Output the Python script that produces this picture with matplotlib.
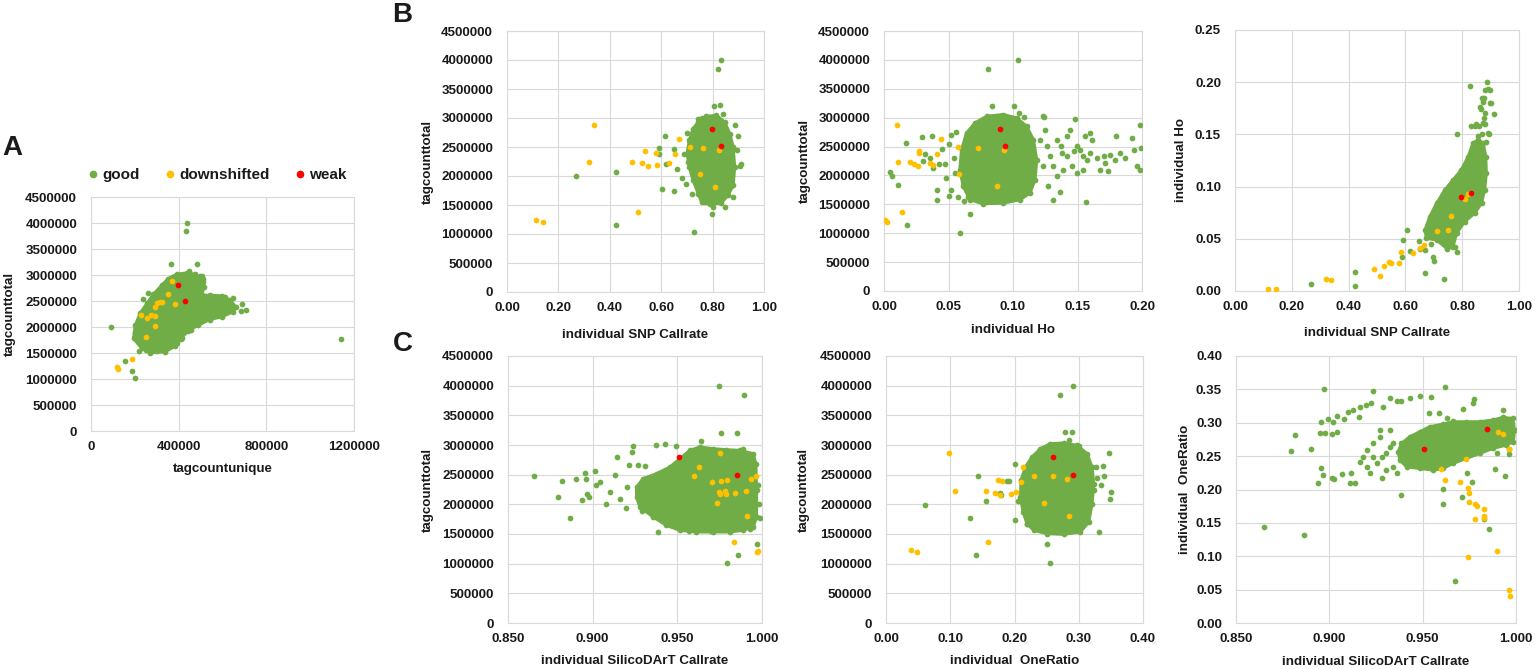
import numpy as np
import matplotlib.pyplot as plt
from matplotlib.lines import Line2D
from matplotlib.ticker import FormatStrFormatter, MultipleLocator

GOOD, DOWN, WEAK = "#70AD47", "#FFC000", "#FF0000"
GRID, INK = "#D9D9D9", "#1a1a1a"
W, H = 1535, 669
DOT = 17

# ---- A: tagcountunique (thousands) vs tagcounttotal (millions) ----
a_core_x = [232, 270, 338, 384, 414, 444, 490, 543, 596, 649, 661, 634, 596, 543, 505, 516, 510,
            475, 437, 391, 353, 323, 285, 255, 225, 202, 194]
a_core_y = [1.587, 1.504, 1.523, 1.632, 1.798, 1.927, 2.036, 2.144, 2.196, 2.292, 2.388, 2.516, 2.599,
            2.612, 2.612, 2.772, 2.932, 3.015, 3.040, 3.015, 2.932, 2.804, 2.631, 2.452, 2.272, 2.036, 1.779]
a_good_x = [1140, 91, 153, 187, 199, 432, 440, 367, 484, 705, 686, 259, 237, 507, 513, 446, 498,
            391, 199, 217, 560, 610, 650, 690, 250, 300, 410, 455]
a_good_y = [1.770, 1.991, 1.344, 1.146, 1.011, 3.847, 4.001, 3.207, 3.220, 2.336, 2.304, 2.656, 2.535,
            2.976, 2.868, 3.072, 2.976, 1.696, 1.888, 1.536, 2.560, 2.575, 2.560, 2.450, 1.560, 1.530,
            1.760, 1.950]
a_down_x = [369, 350, 326, 300, 316, 290, 382, 229, 256, 275, 291, 290, 249, 187, 118, 121]
a_down_y = [2.880, 2.631, 2.484, 2.452, 2.477, 2.388, 2.439, 2.228, 2.176, 2.228, 2.208, 2.016, 1.811,
            1.376, 1.223, 1.184]
a_weak_x = [396, 429]
a_weak_y = [2.810, 2.503]

# ---- B1: individual SNP Callrate vs tagcounttotal ----
b1_core_x = [0.757, 0.789, 0.834, 0.860, 0.880, 0.886, 0.880, 0.867, 0.847, 0.815, 0.776, 0.744,
             0.724, 0.709, 0.701, 0.709, 0.724, 0.744]
b1_core_y = [1.552, 1.511, 1.534, 1.667, 1.839, 2.155, 2.500, 2.730, 2.931, 3.046, 3.029, 2.931,
             2.816, 2.615, 2.385, 2.155, 1.925, 1.695]
b1_good_x = [0.268, 0.423, 0.423, 0.603, 0.648, 0.592, 0.590, 0.614, 0.617, 0.651, 0.662, 0.680,
             0.696, 0.721, 0.797, 0.727, 0.832, 0.820, 0.805, 0.829, 0.889, 0.912, 0.899, 0.893,
             0.880, 0.847, 0.802, 0.770, 0.744, 0.700, 0.690, 0.705, 0.760, 0.840, 0.905, 0.870]
b1_good_y = [1.994, 2.069, 1.149, 1.782, 1.736, 2.483, 2.380, 2.684, 2.213, 2.465, 2.126, 1.965,
             1.862, 1.684, 1.345, 1.030, 4.006, 3.850, 3.213, 3.218, 2.885, 2.213, 2.690, 2.450,
             1.640, 1.470, 1.470, 1.560, 2.990, 2.750, 2.380, 2.240, 3.000, 3.070, 2.180, 1.830]
b1_down_x = [0.113, 0.142, 0.320, 0.338, 0.488, 0.524, 0.547, 0.538, 0.578, 0.583, 0.629, 0.652,
             0.668, 0.713, 0.761, 0.752, 0.824, 0.811, 0.508]
b1_down_y = [1.236, 1.201, 2.241, 2.879, 2.241, 2.218, 2.172, 2.425, 2.396, 2.190, 2.224, 2.385,
             2.638, 2.500, 2.483, 2.029, 2.442, 1.810, 1.379]
b1_weak_x = [0.798, 0.832]
b1_weak_y = [2.816, 2.511]

# ---- B2: individual Ho vs tagcounttotal ----
b2_core_x = [0.0666, 0.0769, 0.0925, 0.1054, 0.1132, 0.1171, 0.1184, 0.1158, 0.1106, 0.1028,
             0.0925, 0.0795, 0.0705, 0.0640, 0.0601, 0.0588, 0.0614]
b2_core_y = [1.579, 1.510, 1.521, 1.579, 1.695, 1.926, 2.273, 2.620, 2.852, 2.996, 3.054, 3.025,
             2.909, 2.736, 2.447, 2.100, 1.810]
b2_good_x = [0.0047, 0.0065, 0.0106, 0.0171, 0.0176, 0.0298, 0.0321, 0.0370, 0.0381, 0.0407,
             0.0412, 0.0593, 0.0666, 0.045, 0.047, 0.048, 0.050, 0.052, 0.054, 0.052, 0.056,
             0.050, 0.055, 0.057, 0.062, 0.065, 0.030, 0.036, 0.043,
             0.0839, 0.1010, 0.0808, 0.1039, 0.105, 0.1085, 0.124, 0.148,
             0.1235, 0.1248, 0.1210, 0.1261, 0.1287, 0.1235, 0.1313, 0.1339, 0.1274, 0.1313,
             0.1339, 0.1370, 0.1417, 0.1443, 0.1378, 0.1417, 0.1469, 0.1494, 0.1520, 0.1456,
             0.1391, 0.1494, 0.1546, 0.1572, 0.1546, 0.1598, 0.1559, 0.1598, 0.1611, 0.1650,
             0.1702, 0.1753, 0.1715, 0.1676, 0.1740, 0.1792, 0.1831, 0.1870, 0.1800, 0.1922,
             0.1935, 0.1961, 0.1981, 0.1992, 0.1987, 0.1567, 0.1365]
b2_good_y = [2.065, 1.984, 1.833, 2.562, 1.139, 2.661, 2.377, 2.678, 2.128, 1.753,
             1.567, 1.012, 1.330, 2.450, 2.200, 1.950, 1.650, 1.750, 2.300, 2.700, 2.760,
             2.550, 2.050, 1.620, 1.550, 1.620, 2.250, 2.300, 2.200,
             3.199, 3.210, 3.846, 4.002, 3.080, 3.008, 3.013, 2.980,
             3.025, 2.794, 2.620, 2.504, 2.331, 2.157, 2.157, 1.984, 1.810, 1.579,
             2.620, 2.504, 2.678, 2.794, 2.389, 2.331, 2.418, 2.504, 2.447, 2.157,
             2.100, 2.042, 2.100, 2.273, 2.331, 2.389, 2.678, 2.736, 2.620, 2.302,
             2.331, 2.360, 2.215, 2.100, 2.071, 2.273, 2.389, 2.302, 2.678, 2.649,
             2.447, 2.169, 2.088, 2.476, 2.875, 1.539, 1.706]
b2_down_x = [0.0101, 0.0111, 0.0205, 0.0236, 0.0262, 0.0269, 0.0272, 0.0360, 0.0376, 0.0409,
             0.0443, 0.0572, 0.0585, 0.0725, 0.0878, 0.0927, 0.0140, 0.0010, 0.0023]
b2_down_y = [2.875, 2.227, 2.233, 2.204, 2.163, 2.389, 2.418, 2.215, 2.175, 2.377,
             2.632, 2.487, 2.019, 2.476, 1.810, 2.435, 1.371, 1.226, 1.186]
b2_weak_x = [0.0896, 0.0935]
b2_weak_y = [2.805, 2.504]

# ---- B3: individual SNP Callrate vs individual Ho ----
b3_core_x = [0.674, 0.710, 0.745, 0.768, 0.780, 0.809, 0.844, 0.868, 0.879, 0.885, 0.883, 0.874,
             0.856, 0.838, 0.821, 0.797, 0.768, 0.739, 0.710, 0.686, 0.669]
b3_core_y = [0.0505, 0.0489, 0.0409, 0.0425, 0.0553, 0.0665, 0.0745, 0.0841, 0.0969, 0.1129,
             0.1288, 0.1416, 0.1448, 0.1416, 0.1288, 0.1161, 0.1065, 0.0969, 0.0841, 0.0713, 0.0585]
b3_good_x = [0.829, 0.888, 0.891, 0.899, 0.882, 0.897, 0.903, 0.868, 0.872, 0.862, 0.865, 0.879,
             0.912, 0.874, 0.850, 0.845, 0.880, 0.891, 0.856, 0.830, 0.782, 0.862, 0.870, 0.858,
             0.875, 0.895, 0.884, 0.877,
             0.604, 0.592, 0.648, 0.616, 0.588, 0.652, 0.670, 0.696, 0.701, 0.669, 0.737, 0.782,
             0.423, 0.423, 0.267, 0.696, 0.737, 0.700, 0.720, 0.690, 0.745, 0.760, 0.775, 0.735]
b3_good_y = [0.1966, 0.1998, 0.1934, 0.1930, 0.1930, 0.1800, 0.1800, 0.1848, 0.1810, 0.1760,
             0.1740, 0.1704, 0.1698, 0.1610, 0.1600, 0.1580, 0.1600, 0.1510, 0.1487, 0.1580,
             0.1500, 0.1384, 0.1500, 0.1580, 0.1850, 0.1500, 0.1430, 0.1660,
             0.0585, 0.0489, 0.0480, 0.0387, 0.0323, 0.0400, 0.0390, 0.0329, 0.0288, 0.0176,
             0.0112, 0.0370, 0.0182, 0.0048, 0.0064, 0.0655, 0.0830, 0.0550, 0.0620, 0.0450,
             0.0400, 0.0430, 0.0420, 0.0500]
b3_down_x = [0.115, 0.143, 0.320, 0.337, 0.488, 0.509, 0.525, 0.541, 0.548, 0.577, 0.583, 0.628,
             0.651, 0.667, 0.711, 0.751, 0.761, 0.810, 0.821]
b3_down_y = [0.0016, 0.0022, 0.0112, 0.0102, 0.0208, 0.0144, 0.0237, 0.0275, 0.0265, 0.0265,
             0.0377, 0.0361, 0.0409, 0.0444, 0.0575, 0.0588, 0.0723, 0.0882, 0.0927]
b3_weak_x = [0.797, 0.830]
b3_weak_y = [0.0898, 0.0937]

# ---- C1: individual SilicoDArT Callrate vs tagcounttotal ----
c1_core_x = [0.9279, 0.9357, 0.9436, 0.9515, 0.9613, 0.9712, 0.9810, 0.9889, 0.9948, 0.9968,
             0.9968, 0.9964, 0.9948, 0.9869, 0.9790, 0.9712, 0.9633, 0.9574, 0.9515, 0.9456,
             0.9377, 0.9298, 0.9259, 0.9259]
c1_core_y = [1.955, 1.786, 1.646, 1.562, 1.534, 1.534, 1.534, 1.562, 1.618, 1.786,
             2.236, 2.685, 2.854, 2.910, 2.921, 2.938, 2.966, 2.910, 2.770, 2.629,
             2.517, 2.433, 2.292, 2.124]
c1_good_x = [0.8652, 0.8797, 0.8819, 0.8864, 0.8904, 0.8937, 0.8953, 0.8963, 0.8969, 0.8979,
             0.9016, 0.9022, 0.9042, 0.9081, 0.9101, 0.9142, 0.9132, 0.9160, 0.9199, 0.9215,
             0.9239, 0.9235, 0.9268, 0.9310, 0.9373, 0.9430, 0.9495, 0.9387, 0.9456, 0.9568,
             0.9639, 0.9698, 0.9755, 0.9853, 0.9745, 0.9891, 0.9889, 0.9968, 0.9859, 0.9796,
             0.9980, 0.9987, 0.9978, 0.9929, 0.9200, 0.9290]
c1_good_y = [2.472, 2.124, 2.393, 1.775, 2.421, 2.067, 2.528, 2.430, 2.180, 2.120,
             2.562, 2.320, 2.380, 2.011, 2.200, 2.798, 2.489, 2.096, 1.944, 2.669,
             2.989, 2.882, 2.660, 2.650, 2.994, 3.011, 2.989, 1.539, 1.657, 1.551,
             3.067, 1.551, 3.208, 3.208, 3.994, 3.843, 2.927, 1.331, 1.140, 1.011,
             2.011, 1.770, 2.330, 1.580, 2.300, 1.880]
c1_down_x = [0.9751, 0.9629, 0.9597, 0.9704, 0.9755, 0.9794, 0.9747, 0.9751, 0.9784, 0.9786,
             0.9838, 0.9905, 0.9934, 0.9964, 0.9735, 0.9914, 0.9834, 0.9970, 0.9978]
c1_down_y = [2.871, 2.629, 2.483, 2.376, 2.388, 2.404, 2.208, 2.168, 2.219, 2.168,
             2.197, 2.219, 2.433, 2.478, 2.017, 1.809, 1.371, 1.191, 1.219]
c1_weak_x = [0.9511, 0.9851]
c1_weak_y = [2.798, 2.500]

# ---- C2: individual OneRatio vs tagcounttotal ----
c2_core_x = [0.2299, 0.2507, 0.2766, 0.3026, 0.3156, 0.3207, 0.3233, 0.3207, 0.3130, 0.2974,
             0.2766, 0.2559, 0.2403, 0.2273, 0.2169, 0.2102, 0.2092, 0.2133, 0.2195]
c2_core_y = [1.562, 1.506, 1.494, 1.534, 1.702, 2.011, 2.348, 2.629, 2.854, 2.994,
             3.034, 3.022, 2.938, 2.798, 2.629, 2.405, 2.124, 1.871, 1.674]
c2_good_x = [0.0612, 0.1432, 0.1313, 0.1406, 0.1557, 0.1775, 0.1790, 0.1884, 0.1915, 0.2008,
             0.2003, 0.2507, 0.2548, 0.2714, 0.2912, 0.2792, 0.2896, 0.2854, 0.3467, 0.3374,
             0.3275, 0.3389, 0.3503, 0.3493, 0.3311, 0.3104, 0.3350, 0.3290, 0.3240, 0.2050,
             0.2200, 0.2400, 0.3000]
c2_good_y = [1.989, 2.472, 1.770, 1.140, 2.056, 2.197, 2.160, 2.388, 2.388, 2.674,
             1.730, 1.331, 1.011, 3.848, 3.994, 3.213, 3.213, 3.080, 2.871, 2.646,
             2.624, 2.472, 2.208, 2.096, 1.539, 1.702, 2.320, 2.450, 2.250, 2.060,
             1.670, 1.560, 2.980]
c2_down_x = [0.0986, 0.1074, 0.1557, 0.1749, 0.1806, 0.1702, 0.1775, 0.1946, 0.2019, 0.2107,
             0.2133, 0.2299, 0.2600, 0.2818, 0.2455, 0.2849, 0.1583, 0.0389, 0.0483]
c2_down_y = [2.871, 2.219, 2.230, 2.416, 2.388, 2.197, 2.163, 2.174, 2.202, 2.376,
             2.629, 2.478, 2.478, 2.433, 2.017, 1.809, 1.371, 1.225, 1.191]
c2_weak_x = [0.2600, 0.2906]
c2_weak_y = [2.798, 2.500]

# ---- C3: individual SilicoDArT Callrate vs individual OneRatio ----
c3_core_x = [0.9378, 0.9414, 0.9485, 0.9556, 0.9609, 0.9662, 0.9733, 0.9805, 0.9876, 0.9947,
             0.9986, 0.9992, 0.9983, 0.9929, 0.9876, 0.9805, 0.9733, 0.9662, 0.9609, 0.9538,
             0.9485, 0.9431, 0.9386, 0.9369]
c3_core_y = [0.2440, 0.2340, 0.2315, 0.2290, 0.2315, 0.2390, 0.2465, 0.2540, 0.2615, 0.2665,
             0.2715, 0.2890, 0.3065, 0.3080, 0.3040, 0.3015, 0.3015, 0.3015, 0.2980, 0.2940,
             0.2865, 0.2790, 0.2690, 0.2565]
c3_good_x = [0.8651, 0.8863, 0.8796, 0.8817, 0.8900, 0.8938, 0.8954, 0.8965, 0.8957, 0.8972,
             0.8952, 0.8979, 0.8991, 0.9013, 0.9016, 0.9027, 0.9022, 0.9039, 0.9043, 0.9066,
             0.9079, 0.9111, 0.9114, 0.9137, 0.9102, 0.9128, 0.9160, 0.9164, 0.9196, 0.9232,
             0.9223, 0.9280, 0.9289, 0.9324, 0.9360, 0.9385, 0.9433, 0.9486, 0.9547, 0.9621,
             0.9534, 0.9587, 0.9630, 0.9662, 0.9716, 0.9769, 0.9773, 0.9929, 0.9386, 0.9611,
             0.9607, 0.9710, 0.9764, 0.9740, 0.9828, 0.9855, 0.9675, 0.9889, 0.9942, 0.9965,
             0.9965, 0.9899, 0.9164, 0.9182, 0.9200, 0.9235, 0.9271, 0.9306, 0.9342, 0.9253,
             0.9200, 0.9217, 0.9271, 0.9324, 0.9340, 0.9306, 0.9360, 0.9280, 0.9235, 0.9324]
c3_good_y = [0.1440, 0.1320, 0.2575, 0.2810, 0.2600, 0.2090, 0.2325, 0.2220, 0.3015, 0.3500,
             0.2840, 0.2840, 0.3050, 0.2835, 0.2165, 0.2150, 0.3005, 0.3100, 0.2865, 0.2225,
             0.3060, 0.2100, 0.2250, 0.2090, 0.3165, 0.3190, 0.3080, 0.3240, 0.3265, 0.3470,
             0.3300, 0.2175, 0.3240, 0.3365, 0.3325, 0.3325, 0.3365, 0.3400, 0.3380, 0.3530,
             0.3140, 0.3140, 0.3065, 0.3030, 0.3200, 0.3290, 0.3355, 0.3190, 0.1925, 0.2010,
             0.1780, 0.1885, 0.2105, 0.2240, 0.1560, 0.1410, 0.0630, 0.2300, 0.2200, 0.2525,
             0.2605, 0.2540, 0.2415, 0.2490, 0.2590, 0.2690, 0.2790, 0.2540, 0.2340, 0.2390,
             0.2340, 0.2240, 0.2890, 0.2890, 0.2690, 0.2290, 0.2240, 0.2490, 0.2490, 0.2640]
c3_down_x = [0.9906, 0.9929, 0.9960, 0.9732, 0.9596, 0.9621, 0.9698, 0.9742, 0.9748, 0.9748,
             0.9782, 0.9789, 0.9831, 0.9830, 0.9828, 0.9778, 0.9897, 0.9744, 0.9962, 0.9969]
c3_down_y = [0.2855, 0.2825, 0.2610, 0.2460, 0.2305, 0.2145, 0.2110, 0.2025, 0.1955, 0.1810,
             0.1785, 0.1750, 0.1705, 0.1600, 0.1575, 0.1565, 0.1080, 0.0990, 0.0490, 0.0400]
c3_weak_x = [0.9506, 0.9846]
c3_weak_y = [0.2610, 0.2905]

plt.rcParams.update({"font.family": ["Liberation Sans", "DejaVu Sans"], "font.weight": "bold",
                     "text.color": INK, "xtick.color": INK, "ytick.color": INK})

fig = plt.figure(figsize=(W / 100, H / 100), dpi=100)


def panel(box, xlim, xstep, xfmt, ylim, ystep, yfmt, xs, ys, xlabel, ylabel, ylab_x, xlab_y):
    x0, y0, x1, y1 = box
    ax = fig.add_axes([x0 / W, 1 - y1 / H, (x1 - x0) / W, (y1 - y0) / H])
    core_x, good_x, down_x, weak_x = [np.asarray(v, float) for v in xs]
    core_y, good_y, down_y, weak_y = [np.asarray(v, float) for v in ys]
    # the dense cloud is drawn as a filled outline, the loose points individually
    poly = ax.fill(core_x, core_y, facecolor=GOOD, edgecolor=GOOD, lw=2.2, zorder=3)[0]
    poly.set_joinstyle("round")
    ax.scatter(core_x, core_y, s=DOT, color=GOOD, linewidths=0, zorder=3)
    ax.scatter(good_x, good_y, s=DOT, color=GOOD, linewidths=0, zorder=3)
    ax.scatter(down_x, down_y, s=DOT, color=DOWN, linewidths=0, zorder=4)
    ax.scatter(weak_x, weak_y, s=DOT, color=WEAK, linewidths=0, zorder=5)

    ax.set_xlim(*xlim); ax.set_ylim(*ylim)
    ax.xaxis.set_major_locator(MultipleLocator(xstep))
    ax.yaxis.set_major_locator(MultipleLocator(ystep))
    ax.xaxis.set_major_formatter(FormatStrFormatter(xfmt))
    ax.yaxis.set_major_formatter(FormatStrFormatter(yfmt))
    ax.grid(True, color=GRID, lw=0.8, zorder=0)
    ax.set_axisbelow(True)
    for s in ax.spines.values():
        s.set_color(GRID); s.set_linewidth(0.8)
    ax.tick_params(length=0, labelsize=9.6)
    ax.tick_params(axis="y", pad=10)
    ax.tick_params(axis="x", pad=7)
    for lab in ax.get_xticklabels() + ax.get_yticklabels():
        lab.set_fontweight("bold")
    fig.text((x0 + x1) / 2 / W, 1 - xlab_y / H, xlabel, ha="center", va="center",
             fontsize=9.6, fontweight="bold")
    fig.text(ylab_x / W, 1 - (y0 + y1) / 2 / H, ylabel, ha="center", va="center",
             rotation=90, fontsize=9.6, fontweight="bold")
    return ax


M = 1e6
panel((91, 197, 354, 431), (0, 1200000), 400000, "%d", (0, 4500000), 500000, "%d",
      (np.array(a_core_x) * 1e3, np.array(a_good_x) * 1e3, np.array(a_down_x) * 1e3, np.array(a_weak_x) * 1e3),
      (np.array(a_core_y) * M, np.array(a_good_y) * M, np.array(a_down_y) * M, np.array(a_weak_y) * M),
      "tagcountunique", "tagcounttotal", 10, 469)
panel((507, 31, 764, 292), (0, 1), 0.2, "%.2f", (0, 4500000), 500000, "%d",
      (b1_core_x, b1_good_x, b1_down_x, b1_weak_x),
      (np.array(b1_core_y) * M, np.array(b1_good_y) * M, np.array(b1_down_y) * M, np.array(b1_weak_y) * M),
      "individual SNP Callrate", "tagcounttotal", 428, 335)
panel((884, 31, 1142, 291), (0, 0.2), 0.05, "%.2f", (0, 4500000), 500000, "%d",
      (b2_core_x, b2_good_x, b2_down_x, b2_weak_x),
      (np.array(b2_core_y) * M, np.array(b2_good_y) * M, np.array(b2_down_y) * M, np.array(b2_weak_y) * M),
      "individual Ho", "tagcounttotal", 805, 330)
panel((1235, 30, 1519, 291), (0, 1), 0.2, "%.2f", (0, 0.25), 0.05, "%.2f",
      (b3_core_x, b3_good_x, b3_down_x, b3_weak_x),
      (b3_core_y, b3_good_y, b3_down_y, b3_weak_y),
      "individual SNP Callrate", "individual Ho", 1181, 333)
panel((508, 356, 762, 623), (0.85, 1.0), 0.05, "%.3f", (0, 4500000), 500000, "%d",
      (c1_core_x, c1_good_x, c1_down_x, c1_weak_x),
      (np.array(c1_core_y) * M, np.array(c1_good_y) * M, np.array(c1_down_y) * M, np.array(c1_weak_y) * M),
      "individual SilicoDArT Callrate", "tagcounttotal", 428, 661)
panel((886, 356, 1143, 623), (0, 0.4), 0.1, "%.2f", (0, 4500000), 500000, "%d",
      (c2_core_x, c2_good_x, c2_down_x, c2_weak_x),
      (np.array(c2_core_y) * M, np.array(c2_good_y) * M, np.array(c2_down_y) * M, np.array(c2_weak_y) * M),
      "individual  OneRatio", "tagcounttotal", 804, 661)
panel((1236, 356, 1516, 623), (0.85, 1.0), 0.05, "%.3f", (0, 0.4), 0.05, "%.2f",
      (c3_core_x, c3_good_x, c3_down_x, c3_weak_x),
      (c3_core_y, c3_good_y, c3_down_y, c3_weak_y),
      "individual SilicoDArT Callrate", "individual  OneRatio", 1185, 662)

# panel letters
for lab, (px, py) in {"A": (12, 148), "B": (402, 15), "C": (403, 344)}.items():
    fig.text(px / W, 1 - py / H, lab, ha="center", va="center", fontsize=20, fontweight="bold")

handles = [Line2D([0], [0], marker="o", ls="", color=c, markersize=4.5, label=l)
           for c, l in ((GOOD, "good"), (DOWN, "downshifted"), (WEAK, "weak"))]
fig.legend(handles=handles, loc="center left", bbox_to_anchor=(89 / W, 1 - 175 / H), ncol=3,
           frameon=False, handlelength=0.5, handletextpad=0.35, columnspacing=1.75,
           borderpad=0, borderaxespad=0, prop={"weight": "bold", "size": 11})

fig.savefig("out.png", dpi=100, facecolor="white")
